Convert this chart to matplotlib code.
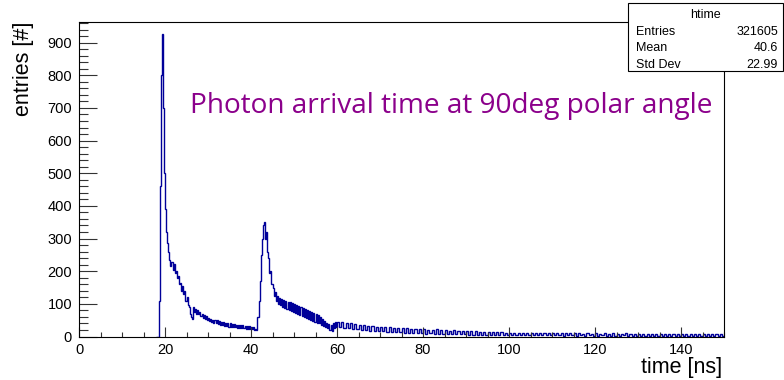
import numpy as np
import matplotlib.pyplot as plt
from matplotlib.patches import Rectangle
from matplotlib.ticker import MultipleLocator

# histogram "htime": photon arrival time
# 0.25 ns bins from 18 to 60 ns
counts_fast = [
    0, 0, 110, 460,
    800, 925, 700, 500,
    390, 320, 285, 260,
    235, 215, 228, 205,
    222, 195, 200, 180,
    185, 160, 165, 140,
    155, 130, 140, 110,
    120, 95, 90, 70,
    60, 55, 90, 75,
    85, 70, 80, 68,
    75, 62, 70, 58,
    65, 55, 62, 50,
    58, 48, 55, 45,
    52, 42, 50, 40,
    50, 38, 46, 36,
    45, 35, 44, 33,
    42, 32, 40, 30,
    40, 30, 38, 29,
    38, 28, 36, 27,
    36, 26, 35, 25,
    34, 25, 33, 24,
    32, 23, 31, 22,
    30, 22, 28, 20,
    24, 20, 60, 110,
    170, 250, 300, 340,
    352, 300, 320, 260,
    240, 195, 200, 160,
    150, 125, 135, 110,
    125, 98, 118, 95,
    115, 90, 112, 88,
    108, 85, 105, 82,
    105, 78, 102, 75,
    100, 72, 95, 68,
    92, 65, 90, 62,
    88, 60, 85, 58,
    82, 55, 78, 50,
    75, 48, 72, 45,
    68, 42, 65, 40,
    60, 36, 55, 32,
    48, 28, 42, 25,
    38, 20, 35, 18,
    40, 25, 45, 28,
]
# 0.5 ns bins from 60 to 100 ns
counts_mid = [
    44, 28, 45, 26, 42, 25, 40, 24,
    38, 22, 36, 20, 35, 20, 33, 18,
    32, 16, 30, 17, 30, 16, 29, 15,
    28, 14, 27, 14, 26, 13, 25, 12,
    25, 12, 24, 11, 23, 11, 22, 10,
    22, 9, 21, 10, 20, 9, 22, 8,
    20, 8, 19, 8, 18, 7, 19, 7,
    18, 7, 17, 7, 17, 6, 16, 6,
    16, 6, 15, 6, 15, 5, 14, 5,
    14, 5, 13, 5, 13, 4, 12, 4,
]
# 0.5 ns bins from 100 to 150 ns
counts_tail = [
    12, 5, 11, 4, 12, 4, 11, 5, 10, 4, 12, 4, 11, 4, 10, 5, 11, 4, 10, 4,
    11, 4, 10, 4, 11, 3, 10, 4, 10, 4, 11, 3, 10, 4, 9, 3, 10, 4, 9, 3,
    10, 3, 9, 4, 10, 3, 9, 3, 10, 3, 9, 3, 9, 4, 10, 3, 9, 3, 8, 3,
    9, 3, 8, 3, 9, 3, 8, 3, 9, 2, 8, 3, 9, 3, 8, 2, 8, 3, 9, 2,
    8, 3, 8, 2, 9, 3, 8, 2, 8, 3, 7, 2, 8, 3, 8, 2, 7, 2, 8, 2,
]

edges = np.concatenate([np.arange(18.0, 60.0, 0.25),
                        np.arange(60.0, 150.01, 0.5)])
counts = np.array(counts_fast + counts_mid + counts_tail, dtype=float)

stat_names = ["Entries", "Mean", "Std Dev"]
stat_values = ["321605", "40.6", "22.99"]

W, H = 784, 380
fig = plt.figure(figsize=(W / 100, H / 100), dpi=100)
ax = fig.add_axes([79 / W, 1 - 336.5 / H, (724 - 79) / W, (336.5 - 21.7) / H])

ax.stairs(counts, edges, color='#000099', lw=1.0)

ax.set_xlim(0, 150)
ax.set_ylim(0, 964)
ax.xaxis.set_major_locator(MultipleLocator(20))
ax.xaxis.set_minor_locator(MultipleLocator(5))
ax.yaxis.set_major_locator(MultipleLocator(100))
ax.yaxis.set_minor_locator(MultipleLocator(20))

lab_font = 'Liberation Sans'
for lab in ax.get_xticklabels() + ax.get_yticklabels():
    lab.set_fontfamily(lab_font)
ax.tick_params(which='both', direction='in', top=False, right=False,
               labelsize=10.5, pad=5, color='#333333')
ax.tick_params(axis='x', which='major', length=7, width=0.8)
ax.tick_params(axis='x', which='minor', length=3.5, width=0.8)
ax.tick_params(axis='y', which='major', length=13, width=0.8)
ax.tick_params(axis='y', which='minor', length=6.5, width=0.8)
for s in ax.spines.values():
    s.set_linewidth(0.8)

fig.text(23 / W, 1 - 21.7 / H, 'entries [#]', rotation=90, ha='center', va='top',
         fontsize=15.5, family=lab_font)
fig.text(722 / W, 1 - 367 / H, 'time [ns]', ha='right', va='center',
         fontsize=15.5, family=lab_font)

fig.text(190 / W, 1 - 113 / H, 'Photon arrival time at 90deg polar angle',
         ha='left', va='baseline', fontsize=20.2, family='Open Sans', color='#8B008B')

# stats box
fig.patches.append(Rectangle((628 / W, 1 - 71 / H), (783 - 628) / W, (71 - 3) / H,
                             transform=fig.transFigure, facecolor='white',
                             edgecolor='black', lw=0.8, zorder=10))
fig.text(705.5 / W, 1 - 15 / H, 'htime', ha='center', va='center',
         fontsize=9, family=lab_font, zorder=11)
for i, (n, v) in enumerate(zip(stat_names, stat_values)):
    yy = 1 - (31.7 + 16.6 * i) / H
    fig.text(636 / W, yy, n, ha='left', va='center', fontsize=9, family=lab_font, zorder=11)
    fig.text(778 / W, yy, v, ha='right', va='center', fontsize=9, family=lab_font, zorder=11)

fig.savefig('out.png', dpi=100)
